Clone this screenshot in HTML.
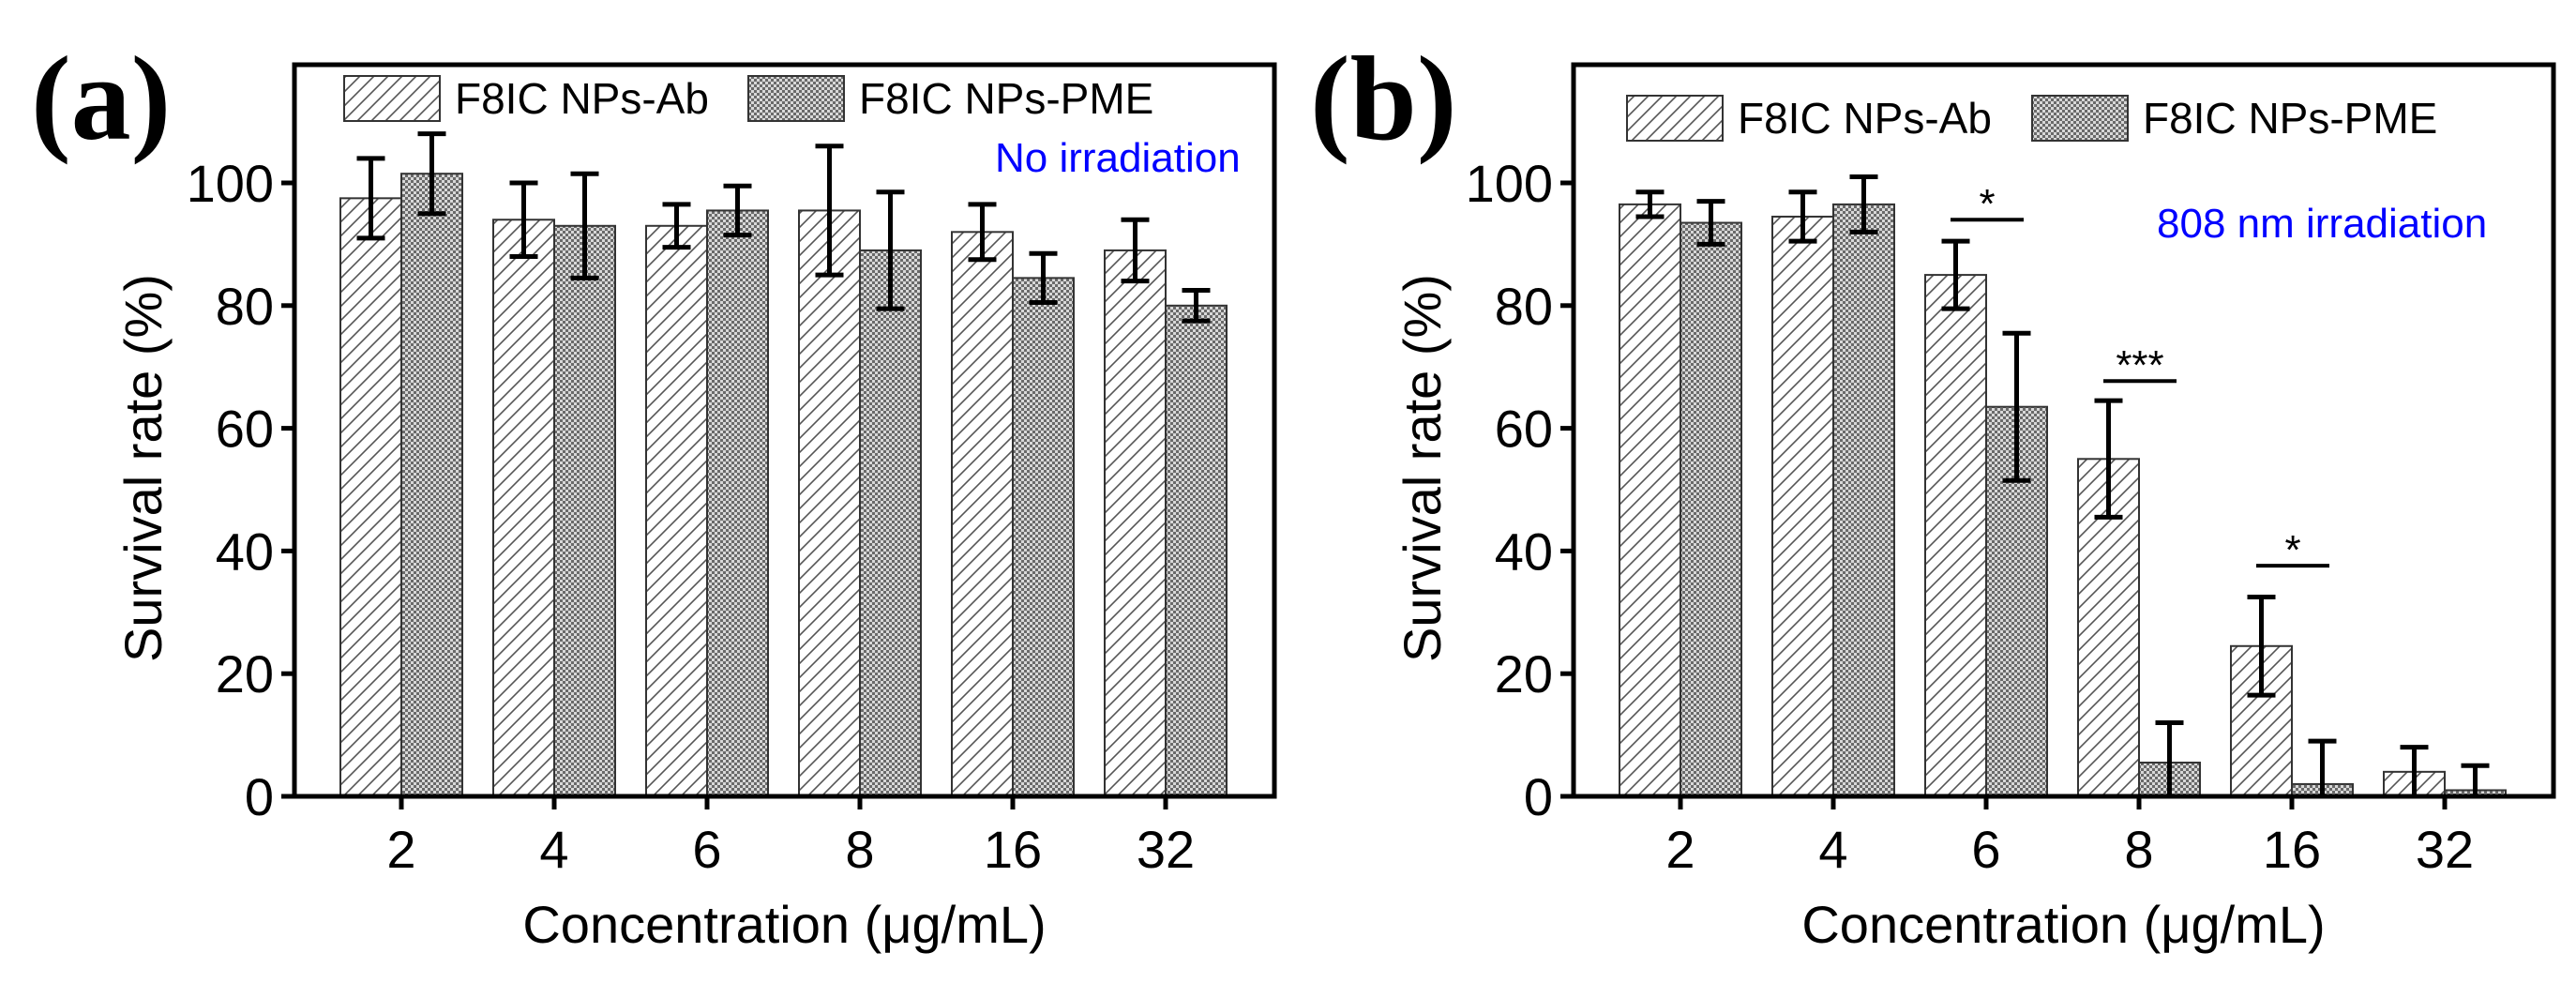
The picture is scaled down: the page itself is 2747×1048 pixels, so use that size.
<!DOCTYPE html>
<html><head><meta charset="utf-8"><style>
html,body{margin:0;padding:0;background:#fff;}
svg{display:block;}
text{font-family:"Liberation Sans",Arial,sans-serif;}
text.plabel{font-family:"Liberation Serif","Times New Roman",serif;font-weight:bold;}
</style></head><body>
<svg id="fig" width="2747" height="1048" viewBox="0 0 2747 1048" xmlns="http://www.w3.org/2000/svg">
<defs>
<pattern id="hatch" patternUnits="userSpaceOnUse" width="15" height="15">
<rect width="15" height="15" fill="#fff"/>
<path d="M-2,17 L17,-2 M-2,2 L2,-2 M13,17 L17,13" stroke="#555" stroke-width="1.6"/>
</pattern>
<pattern id="cross" patternUnits="userSpaceOnUse" width="6" height="6">
<rect width="6" height="6" fill="#d8d8d8"/>
<rect x="0" y="0" width="3" height="3" fill="#6a6a6a"/>
<rect x="3" y="3" width="3" height="3" fill="#6a6a6a"/>
</pattern>
</defs>
</svg>
<script>
const categories = ["2","4","6","8","16","32"];
const yTicks = [0,20,40,60,80,100];
const abA = [97.5,94,93,95.5,92,89];
const abAErr = [6.5,6,3.5,10.5,4.5,5];
const pmeA = [101.5,93,95.5,89,84.5,80];
const pmeAErr = [6.5,8.5,4,9.5,4,2.5];
const abB = [96.5,94.5,85,55,24.5,4];
const abBErr = [2,4,5.5,9.5,8,4];
const pmeB = [93.5,96.5,63.5,5.5,2,1];
const pmeBErr = [3.5,4.5,12,6.5,7,4];
const sigIdx = [2,3,4];
const sigLevel = [94,67.7,37.6];
const sigLabels = ["*","***","*"];

const svg = document.getElementById('fig');
const NS = "http://www.w3.org/2000/svg";
function mk(tag, attrs, parent){const e=document.createElementNS(NS,tag);for(const k in attrs)e.setAttribute(k,attrs[k]);(parent||svg).appendChild(e);return e;}

const Y0=849, Y100=195, TOP=69, FW=1045;
function yS(v){return Y0-(v/100)*(Y0-Y100);}

function panel(left, label, ab, abE, pme, pmeE, note, noteX, noteY, legY, legBoxes, sig){
  const g = mk('g',{});
  
  
  function xC(i){return left+114+i*163;}
  const bw=65;
  categories.forEach((c,i)=>{
    const cx=xC(i);
    const b1=mk('rect',{x:cx-bw,y:yS(ab[i]),width:bw,height:Y0-yS(ab[i]),fill:'url(#hatch)',stroke:'#333','stroke-width':2},g);
    
    
    const b2=mk('rect',{x:cx,y:yS(pme[i]),width:bw,height:Y0-yS(pme[i]),fill:'url(#cross)',stroke:'#333','stroke-width':2},g);
    
    
    [[cx-bw/2,ab[i],abE[i],'ab'],[cx+bw/2,pme[i],pmeE[i],'pme']].forEach(([x,v,e,s])=>{
      const hi=yS(v+e), lo=yS(Math.max(0,v-e));
      const eb=mk('path',{d:`M${x},${hi}V${lo}M${x-15},${hi}H${x+15}`+(v-e>0?`M${x-15},${lo}H${x+15}`:''),stroke:'#000','stroke-width':5,fill:'none'},g);
      
      
    });
    mk('path',{d:`M${cx},${Y0}v14`,stroke:'#000','stroke-width':5},g);
    const tl=mk('text',{x:cx,y:925,'font-size':56,'text-anchor':'middle'},g);tl.textContent=c;
    
    
  });
  yTicks.forEach(v=>{
    mk('path',{d:`M${left},${yS(v)}h-14`,stroke:'#000','stroke-width':5},g);
    const tl=mk('text',{x:left-22,y:yS(v)+20,'font-size':56,'text-anchor':'end'},g);tl.textContent=v;
    
    
  });
  const fr=mk('rect',{x:left,y:TOP,width:FW,height:Y0-TOP,fill:'none',stroke:'#000','stroke-width':5},g);
  
  
  const l1=mk('rect',{x:legBoxes[0],y:legY,width:102,height:48,fill:'url(#hatch)',stroke:'#333','stroke-width':2},g);
  
  
  const lt1=mk('text',{x:legBoxes[0]+118,y:legY+40,'font-size':46},g);lt1.textContent='F8IC NPs-Ab';
  
  
  const l2=mk('rect',{x:legBoxes[1],y:legY,width:102,height:48,fill:'url(#cross)',stroke:'#333','stroke-width':2},g);
  
  
  const lt2=mk('text',{x:legBoxes[1]+118,y:legY+40,'font-size':46},g);lt2.textContent='F8IC NPs-PME';
  
  
  const nt=mk('text',{x:noteX,y:noteY,'font-size':44,fill:'#0000ff'},g);nt.textContent=note;
  
  
  const xl=mk('text',{x:left+FW/2,y:1005,'font-size':56,'text-anchor':'middle'},g);xl.textContent='Concentration (\u03bcg/mL)';
  
  
  const yl=mk('text',{x:0,y:0,'font-size':56,'text-anchor':'middle',transform:`translate(${left-142},${(Y0+TOP)/2+40}) rotate(-90)`},g);yl.textContent='Survival rate (%)';
  
  
  const pl=mk('text',{x:left-281,y:148,'font-size':128,'class':'plabel'},g);pl.textContent='('+label+')';
  
  
  if(sig){
    sigIdx.forEach((idx,k)=>{
      const cx=xC(idx), y=yS(sigLevel[k]);
      const sl=mk('path',{d:`M${cx-38},${y}H${cx+40}`,stroke:'#000','stroke-width':4},g);
      
      
      const st=mk('text',{x:cx+1,y:y-2,'font-size':44,'text-anchor':'middle'},g);st.textContent=sigLabels[k];
      
      
    });
  }
}
panel(314,'a',abA,abAErr,pmeA,pmeAErr,'No irradiation',1061,183,81,[367,798],false);
panel(1678,'b',abB,abBErr,pmeB,pmeBErr,'808 nm irradiation',2300,253,102,[1735,2167],true);
</script>
</body></html>
